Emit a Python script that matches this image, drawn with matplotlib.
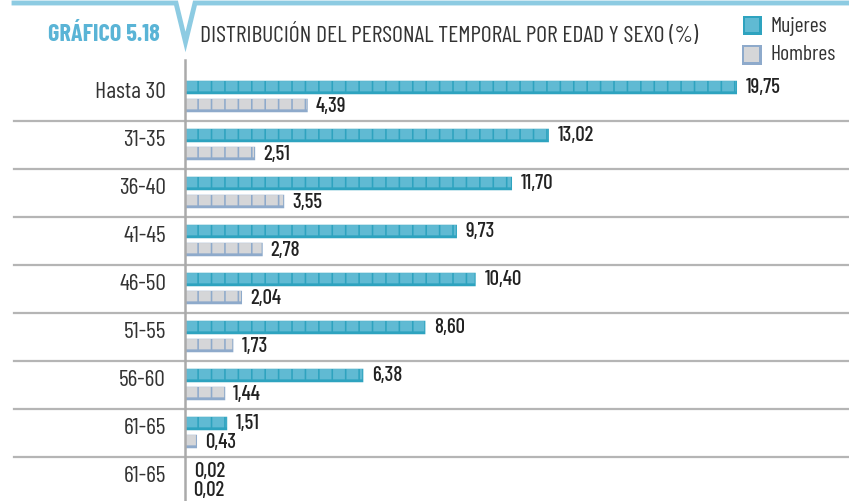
import matplotlib
matplotlib.use('Agg')
import matplotlib.pyplot as plt
from matplotlib.patches import Rectangle
from matplotlib.lines import Line2D
import matplotlib.transforms as mtransforms

plt.rcParams['font.family'] = ['Barlow Condensed', 'DejaVu Sans']

# data
grupos = ['Hasta 30', '31-35', '36-40', '41-45', '46-50', '51-55', '56-60', '61-65', '61-65']
mujeres = [19.75, 13.02, 11.70, 9.73, 10.40, 8.60, 6.38, 1.51, 0.02]
hombres = [4.39, 2.51, 3.55, 2.78, 2.04, 1.73, 1.44, 0.43, 0.02]
etiq_m = ['19,75', '13,02', '11,70', '9,73', '10,40', '8,60', '6,38', '1,51', '0,02']
etiq_h = ['4,39', '2,51', '3,55', '2,78', '2,04', '1,73', '1,44', '0,43', '0,02']

W, H = 849, 501
fig = plt.figure(figsize=(W / 100, H / 100), dpi=100)

ax_left = 185
ax_top = 60
ax = fig.add_axes([ax_left / W, 0, 1 - ax_left / W, (H - ax_top) / H])
px_unit = 27.95
ax.set_xlim(0, (W - ax_left) / px_unit)
row_px = 48
top_off = 36.5 / row_px
ax.set_ylim((H - ax_top) / row_px - top_off, -top_off)
ax.axis('off')

teal_dark = '#2ea3bf'
teal = '#60bad3'
grey_dark = '#8eaacb'
grey = '#d5d6d8'
block = 0.48
bh = 13.5 / row_px
off = 9.0 / row_px


def bloques(y, val, dark, light):
    ax.barh(y, val, height=bh, left=0, color=dark, linewidth=0, snap=False)
    x = 0.0
    gap = 1.6 / px_unit
    while x < val - 1e-9:
        w = min(block, val - x)
        ax.barh(y - 1.3 / row_px, max(w - gap, 0.3 * w), height=bh - 3.2 / row_px,
                left=x + 0.5 / px_unit, color=light, linewidth=0, snap=False)
        x += block


for i in range(len(grupos)):
    bloques(i - off, mujeres[i], teal_dark, teal)
    bloques(i + off, hombres[i], grey_dark, grey)
    ax.text(mujeres[i] + 9 / px_unit, i - off, etiq_m[i], fontsize=15,
            fontweight='medium', va='center', ha='left', color='#222222')
    ax.text(hombres[i] + 8 / px_unit, i + off + 1 / row_px, etiq_h[i], fontsize=15,
            fontweight='medium', va='center', ha='left', color='#222222')
    ax.text(-19 / px_unit, i - 4 / row_px, grupos[i], fontsize=17, va='center',
            ha='right', color='#333333', clip_on=False)

# row separators
trans = mtransforms.blended_transform_factory(fig.transFigure, ax.transData)
for i in range(len(grupos) - 1):
    fig.add_artist(Line2D([14 / W, 1], [i + 0.5, i + 0.5], transform=trans,
                          color='#b5b5b5', lw=1.6))

# vertical axis line
fig.add_artist(Line2D([ax_left / W, ax_left / W], [0, (H - ax_top) / H],
                      color='#aaaaaa', lw=1.8))

# header line with notch
hx = [14, 176, 185.5, 195, W]
hy = [3, 3, 42, 3, 3]
fig.add_artist(Line2D([v / W for v in hx], [1 - v / H for v in hy],
                      color='#8dcbe2', lw=3.5, solid_joinstyle='miter'))

fig.text(48 / W, 1 - 35 / H, 'GRÁFICO 5.18', fontsize=17.5, fontweight='bold',
         color='#5ab4d6', va='center', ha='left')
fig.text(200 / W, 1 - 35 / H, 'DISTRIBUCIÓN DEL PERSONAL TEMPORAL POR EDAD Y SEXO (%)',
         fontsize=17, color='#333333', va='center', ha='left')


# legend
def caja(x0, y0, s, dark, light):
    fig.add_artist(Rectangle((x0 / W, 1 - (y0 + s) / H), s / W, s / H,
                             transform=fig.transFigure, color=dark, lw=0))
    fig.add_artist(Rectangle(((x0 + 2) / W, 1 - (y0 + s - 3) / H), (s - 5) / W, (s - 5) / H,
                             transform=fig.transFigure, color=light, lw=0))


caja(743, 16, 19, teal_dark, teal)
caja(742, 45, 20, grey_dark, grey)
fig.text(770 / W, 1 - 27 / H, 'Mujeres', fontsize=15.5, color='#333333', va='center')
fig.text(770 / W, 1 - 55 / H, 'Hombres', fontsize=15.5, color='#333333', va='center')

fig.savefig('out.png', dpi=100)
